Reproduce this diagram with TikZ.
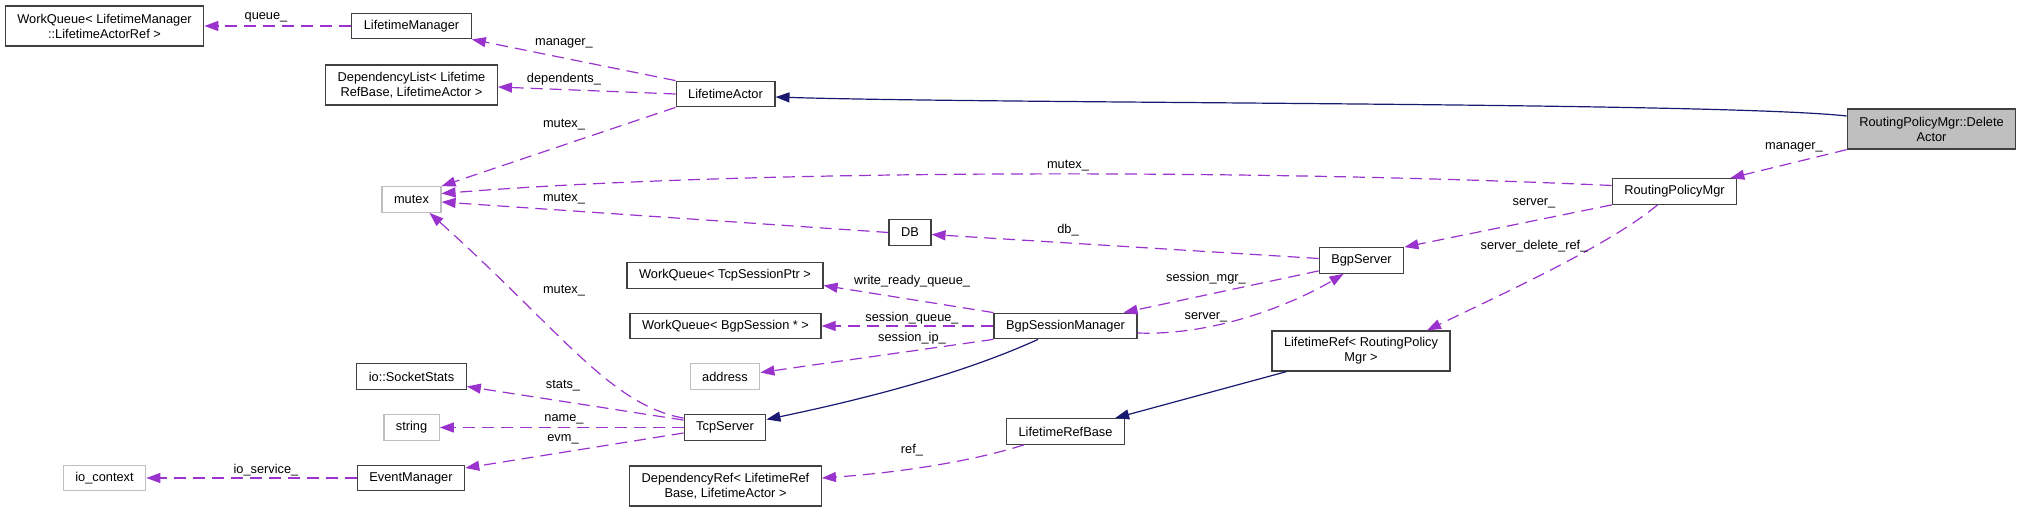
\documentclass[tikz,border=0pt]{standalone}
\usepackage{fontspec}
\setmainfont{Liberation Sans}
\usetikzlibrary{arrows.meta}
\definecolor{member}{HTML}{9A32CD}
\definecolor{inherit}{HTML}{191970}
\definecolor{frame}{HTML}{404040}
\definecolor{undoc}{HTML}{BFBFBF}
\begin{document}
\begin{tikzpicture}[x=0.5pt,y=-0.5pt,font=\fontsize{6.4}{7.5}\selectfont,
cls/.style={draw=frame,line width=0.65pt,fill=white,inner xsep=6pt,inner ysep=1pt,
minimum height=12.75pt,align=center},
ext/.style={cls,draw=undoc},
two/.style={minimum height=20pt},
lbl/.style={inner sep=0pt},
mem/.style={-{Triangle[length=7pt,width=5pt]},dash pattern=on 6pt off 3.5pt,line width=0.6pt,color=member},
inh/.style={-{Triangle[length=7pt,width=5pt]},line width=0.6pt,color=inherit}]
\useasboundingbox (0,0) rectangle (2023,512);
\node[cls,two] (wqLM) at (104.5,26) {WorkQueue< LifetimeManager\\::LifetimeActorRef >};
\node[ext] (ioCtx) at (104.5,478) {io\_context};
\node[cls] (lifeMgr) at (411.5,26) {LifetimeManager};
\node[cls,two] (depList) at (411.5,85) {DependencyList< Lifetime\\RefBase, LifetimeActor >};
\node[ext] (mutex) at (411.5,199.5) {mutex};
\node[cls] (sockStats) at (411.5,376.5) {io::SocketStats};
\node[ext] (string) at (411.5,427.5) {string};
\node[cls] (evMgr) at (411,478) {EventManager};
\node[cls] (lifeActor) at (725.5,94) {LifetimeActor};
\node[cls] (wqTcp) at (725,275.5) {WorkQueue< TcpSessionPtr >};
\node[cls] (wqBgp) at (725.5,326) {WorkQueue< BgpSession * >};
\node[ext] (address) at (725,376.5) {address};
\node[cls] (tcpSrv) at (725,427.5) {TcpServer};
\node[cls,two] (depRef) at (725.5,486) {DependencyRef< LifetimeRef\\Base, LifetimeActor >};
\node[cls] (db) at (910,232.5) {DB};
\node[cls] (bgpSessMgr) at (1065.5,326) {BgpSessionManager};
\node[cls] (refBase) at (1065.5,431.5) {LifetimeRefBase};
\node[cls] (bgpSrv) at (1361.5,260.5) {BgpServer};
\node[cls,two] (lifeRef) at (1361,351) {LifetimeRef< RoutingPolicy\\Mgr >};
\node[cls] (rpMgr) at (1674.5,191.5) {RoutingPolicyMgr};
\node[cls,two,fill=undoc] (delActor) at (1931.5,129) {RoutingPolicyMgr::Delete\\Actor};
\draw[inh] ([yshift=6.5pt]delActor.west) .. controls (1720,102) and (1000,104) .. ([yshift=-1.5pt]lifeActor.east);
\draw[inh] ([xshift=-13.75pt]bgpSessMgr.south) .. controls (960,375) and (860,400) .. ([yshift=4pt]tcpSrv.east);
\draw[inh] ([xshift=7.5pt]lifeRef.south west) -- ([xshift=-5pt]refBase.north east);
\draw[mem] (lifeMgr) -- (wqLM);
\draw[mem] (lifeActor.north west) -- (lifeMgr.south east);
\draw[mem] (lifeActor.west) -- ([yshift=-1pt]depList.east);
\draw[mem] (lifeActor.south west) -- (mutex.north east);
\draw[mem] ([yshift=3pt]rpMgr.west) .. controls (1250,169) and (750,169) .. ([yshift=3pt]mutex.east);
\draw[mem] (db.west) -- ([yshift=-1.25pt]mutex.east);
\draw[mem] ([yshift=-2pt]tcpSrv.north west) .. controls (610,405) and (560,330) .. ([xshift=9pt]mutex.south);
\draw[mem] ([yshift=1pt]bgpSrv.west) -- ([yshift=-1pt]db.east);
\draw[mem] (rpMgr.south west) -- (bgpSrv.north east);
\draw[mem] ([yshift=1.5pt]bgpSrv.south west) -- ([xshift=-7pt]bgpSessMgr.north east);
\draw[mem] ([yshift=-3.5pt]bgpSessMgr.east) .. controls (1220,336) and (1300,300) .. ([xshift=-9pt]bgpSrv.south);
\draw[mem] ([xshift=-8.5pt]rpMgr.south) .. controls (1610,245) and (1500,295) .. ([xshift=33pt]lifeRef.north);
\draw[mem] (bgpSessMgr.north west) -- ([yshift=-5pt]wqTcp.east);
\draw[mem] (bgpSessMgr) -- (wqBgp);
\draw[mem] (bgpSessMgr.south west) -- ([yshift=2pt]address.east);
\draw[mem] ([yshift=-3pt]tcpSrv.north west) -- ([yshift=-5pt]sockStats.east);
\draw[mem] (tcpSrv) -- (string);
\draw[mem] ([yshift=-2.75pt]tcpSrv.west) -- ([yshift=5pt]evMgr.east);
\draw[mem] (evMgr) -- (ioCtx);
\draw[mem] ([xshift=9pt]refBase.south west) .. controls (960,465) and (880,474) .. ([yshift=4pt]depRef.east);
\draw[mem] (delActor.south west) -- ([xshift=-3.5pt]rpMgr.north east);
\node[lbl] (lQueue) at (266,17) {queue\_};
\node[lbl] (lManager) at (564,43) {manager\_};
\node[lbl] (lDependents) at (564,79) {dependents\_};
\node[lbl] (lMutexA) at (564,125) {mutex\_};
\node[lbl] (lMutexB) at (1068,166) {mutex\_};
\node[lbl] (lMutexC) at (564,199) {mutex\_};
\node[lbl] (lMutexD) at (564,291) {mutex\_};
\node[lbl] (lStats) at (563,386) {stats\_};
\node[lbl] (lName) at (564,419) {name\_};
\node[lbl] (lEvm) at (563,439) {evm\_};
\node[lbl] (lIoService) at (266,470) {io\_service\_};
\node[lbl] (lWriteQueue) at (912,281) {write\_ready\_queue\_};
\node[lbl] (lSessQueue) at (912,318) {session\_queue\_};
\node[lbl] (lSessIp) at (912,338) {session\_ip\_};
\node[lbl] (lRef) at (912,450) {ref\_};
\node[lbl] (lDb) at (1068,230) {db\_};
\node[lbl] (lSessMgr) at (1206,278) {session\_mgr\_};
\node[lbl] (lServerA) at (1206,317) {server\_};
\node[lbl] (lServerB) at (1534,203) {server\_};
\node[lbl] (lDelRef) at (1534,246) {server\_delete\_ref\_};
\node[lbl] (lManagerB) at (1794,147) {manager\_};
\end{tikzpicture}
\end{document}
